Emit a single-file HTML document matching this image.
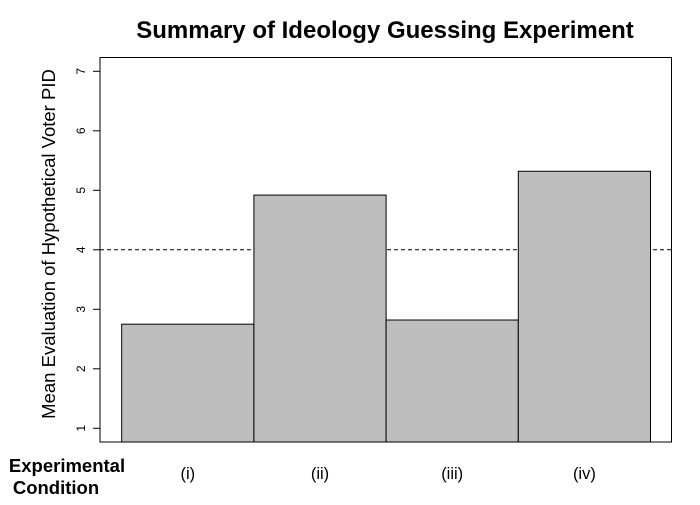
<!DOCTYPE html>
<html><head><meta charset="utf-8"><style>
body{margin:0;background:#fff}
svg text{font-family:"Liberation Sans",Arial,sans-serif}
</style></head><body>
<svg id="chart" width="700" height="500" xmlns="http://www.w3.org/2000/svg">
<text x="385" y="38" text-anchor="middle" font-size="24" font-weight="bold">Summary of Ideology Guessing Experiment</text>
<text transform="translate(55,244) rotate(-90)" text-anchor="middle" font-size="18.5">Mean Evaluation of Hypothetical Voter PID</text>
<text x="67" y="472" text-anchor="middle" font-size="18.5" font-weight="bold">Experimental</text>
<text x="56" y="494" text-anchor="middle" font-size="18.5" font-weight="bold">Condition</text>
<g id="marks"></g>
<rect x="100" y="57.5" width="571.5" height="384.5" fill="none" stroke="#000" stroke-width="1"/>
</svg>
<script>
const categories = ["(i)", "(ii)", "(iii)", "(iv)"];
const values = [2.75, 4.92, 2.82, 5.32];
const yTicks = [1, 2, 3, 4, 5, 6, 7];
const refValue = [4];

const svg = document.getElementById('chart');
const g = document.getElementById('marks');
const NS = 'http://www.w3.org/2000/svg';
const y = v => 428.3 - (v - 1) * 59.5;
const barW = 132.2;
const x = i => 121.7 + i * barW;
const baseY = 442;
function mk(tag, attrs){const e=document.createElementNS(NS,tag);for(const k in attrs)e.setAttribute(k,attrs[k]);return e;}

const ref = mk('line',{x1:100,x2:671.5,y1:y(refValue[0]),y2:y(refValue[0]),stroke:'#000','stroke-width':1,'stroke-dasharray':'4,3'});


g.appendChild(ref);

values.forEach((v,i)=>{
  const r = mk('rect',{x:x(i),y:y(v),width:barW,height:baseY-y(v),fill:'#bebebe',stroke:'#000','stroke-width':1});
  
  
  g.appendChild(r);
  const t = mk('text',{x:x(i)+barW/2,y:479,'text-anchor':'middle','font-size':16.5});
  t.textContent = categories[i];
  
  
  g.appendChild(t);
});

yTicks.forEach(v=>{
  const l = mk('line',{x1:93,x2:100,y1:y(v),y2:y(v),stroke:'#000','stroke-width':1});
  
  
  g.appendChild(l);
  const t = mk('text',{transform:`translate(85,${y(v)}) rotate(-90)`,'text-anchor':'middle','font-size':12});
  t.textContent = v;
  
  
  g.appendChild(t);
});
</script>
</body></html>
